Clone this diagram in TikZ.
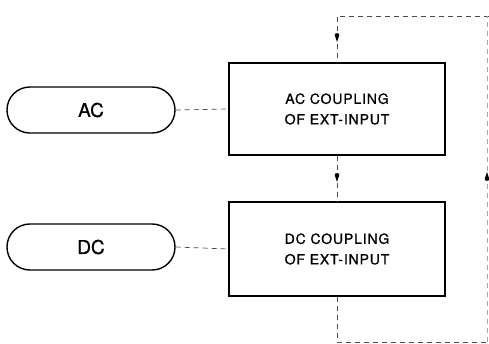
\documentclass[tikz,border=0pt]{standalone}
\usepackage{fontspec}
\setmainfont{TeX Gyre Heros}[FakeBold=0.8]
\usetikzlibrary{arrows.meta}
\tikzset{
  pill/.style={draw, line width=1.4pt, rounded corners=22.9pt, minimum width=168pt, minimum height=46pt, inner sep=0pt, font=\fontsize{19}{20}\selectfont},
  blockbox/.style={draw, line width=1.6pt, minimum width=216pt, inner sep=0pt, align=center, font=\fontsize{14}{20.5}\selectfont\addfontfeature{LetterSpace=6}},
  link/.style={line width=0.7pt, dash pattern=on 5pt off 4pt, draw=black!70},
  headdown/.pic={\fill[black] (0,0) -- (-2.3,-7) .. controls (-2.6,-9.5) and (2.6,-9.5) .. (2.3,-7) -- cycle;}
}
\begin{document}
\begin{tikzpicture}[x=1pt,y=-1pt]
\useasboundingbox (0,0) rectangle (489,344);
\fill[white] (0,0) rectangle (489,344);
\node[pill] (pillAC) at (91,110) {AC};
\node[pill] (pillDC) at (91,247) {DC};
\node[blockbox, minimum height=92pt] (boxAC) at (337,109) {AC COUPLING\\OF EXT-INPUT};
\node[blockbox, minimum height=94pt] (boxDC) at (337,249) {DC COUPLING\\OF EXT-INPUT};
\coordinate (topL) at (337,16);
\coordinate (topR) at (489,16);
\coordinate (arrA) at (337,42);
\coordinate (arrB) at (337,182);
\coordinate (botL) at (337,342);
\coordinate (botR) at (489,342);
\coordinate (rightB) at (487,342);
\coordinate (arrR) at (487,172);
\coordinate (rightT) at (487,16);
\draw[link] (pillAC.east) -- (boxAC.west);
\draw[link] (pillDC.east) -- (boxDC.west);
\draw[link] (topR) -- (topL) -- (boxAC.north);
\draw[link] (boxAC.south) -- (boxDC.north);
\draw[link] (boxDC.south) -- (botL) -- (botR);
\draw[link, draw=black!35] (rightB) -- (rightT);
\pic at (arrA) {headdown};
\pic at (arrB) {headdown};
\pic[rotate=180] at (arrR) {headdown};
\end{tikzpicture}
\end{document}
